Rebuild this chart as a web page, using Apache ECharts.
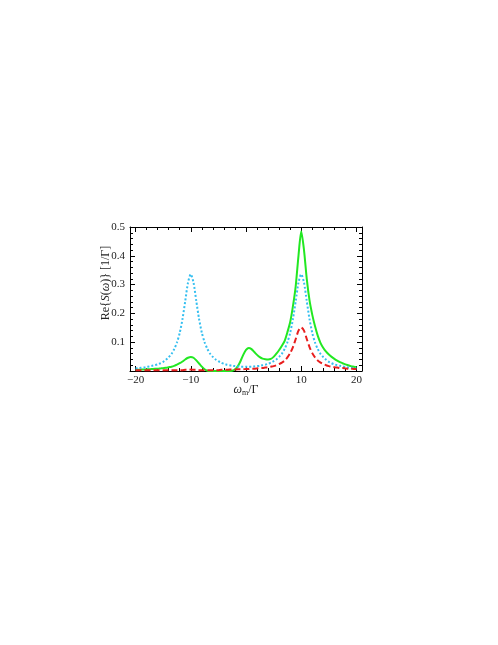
<!DOCTYPE html>
<html>
<head>
<meta charset="utf-8">
<script src="https://cdn.jsdelivr.net/npm/echarts@6/dist/echarts.min.js"></script>
<style>
html,body{margin:0;padding:0;background:#fff;}
#chart{width:498px;height:645px;}
</style>
</head>
<body>
<div id="chart"></div>
<script>
// x positions (omega_m / Gamma)
var xs = [
  -20,-19.5,-19,-18.5,-18,-17.5,-17,-16.5,-16,-15.5,
  -15,-14.5,-14,-13.5,-13,-12.5,-12,-11.5,-11,-10.5,
  -10,-9.5,-9,-8.5,-8,-7.5,-7,-6.5,-6,-5.5,
  -5,-4.5,-4,-3.5,-3,-2.5,-2,-1.5,-1,-0.5,
  0,0.5,1,1.5,2,2.5,3,3.5,4,4.5,
  5,5.5,6,6.5,7,7.5,8,8.5,9,9.5,
  10,10.5,11,11.5,12,12.5,13,13.5,14,14.5,
  15,15.5,16,16.5,17,17.5,18,18.5,19,19.5,
  20
];
// green solid curve
var greenVals = [
  0.004,0.004,0.005,0.005,0.006,0.006,0.007,0.008,0.008,0.009,
  0.010,0.011,0.013,0.015,0.018,0.022,0.027,0.033,0.040,0.046,
  0.049,0.046,0.037,0.026,0.015,0.006,0.001,0,0,0,
  0,0,0,0,0,0.001,0.005,0.016,0.034,0.056,
  0.073,0.080,0.076,0.066,0.056,0.048,0.043,0.041,0.040,0.042,
  0.049,0.060,0.073,0.088,0.105,0.135,0.170,0.225,0.295,0.400,
  0.485,0.420,0.320,0.245,0.195,0.155,0.122,0.097,0.080,0.067,
  0.057,0.049,0.042,0.036,0.031,0.027,0.023,0.020,0.017,0.015,
  0.013
];
// cyan dotted curve
var cyanVals = [
  0.009,0.010,0.011,0.012,0.014,0.016,0.018,0.020,0.023,0.027,
  0.032,0.039,0.048,0.059,0.076,0.099,0.132,0.180,0.243,0.307,
  0.336,0.307,0.243,0.181,0.133,0.100,0.077,0.060,0.049,0.040,
  0.034,0.029,0.025,0.022,0.020,0.018,0.017,0.016,0.015,0.015,
  0.015,0.015,0.015,0.016,0.017,0.018,0.020,0.022,0.025,0.029,
  0.034,0.040,0.049,0.060,0.077,0.100,0.133,0.181,0.243,0.307,
  0.336,0.307,0.243,0.180,0.132,0.099,0.076,0.059,0.048,0.039,
  0.032,0.027,0.023,0.020,0.018,0.016,0.014,0.012,0.011,0.010,
  0.009
];
// red dashed curve
var redVals = [
  0.003,0.003,0.003,0.003,0.003,0.003,0.003,0.003,0.003,0.003,
  0.003,0.003,0.003,0.003,0.003,0.003,0.003,0.003,0.004,0.004,
  0.005,0.004,0.004,0.003,0.003,0.003,0.003,0.003,0.003,0.003,
  0.003,0.004,0.004,0.004,0.005,0.005,0.005,0.006,0.006,0.006,
  0.007,0.007,0.008,0.008,0.009,0.010,0.010,0.012,0.013,0.015,
  0.017,0.020,0.024,0.029,0.036,0.047,0.062,0.083,0.111,0.140,
  0.151,0.140,0.111,0.083,0.062,0.047,0.036,0.029,0.024,0.020,
  0.017,0.015,0.013,0.012,0.010,0.010,0.009,0.008,0.008,0.007,
  0.007
];
// ticks
var xMajorTicks = [-20,-10,0,10,20];
var xMinorTicks = [-20,-18,-16,-14,-12,-10,-8,-6,-4,-2,0,2,4,6,8,10,12,14,16,18,20];
var yMajorTicks = [0,0.1,0.2,0.3,0.4,0.5];
var yTickLabels = [0.1,0.2,0.3,0.4,0.5];
var yMinorTicks = [0.02,0.04,0.06,0.08,0.12,0.14,0.16,0.18,0.22,0.24,0.26,0.28,0.32,0.34,0.36,0.38,0.42,0.44,0.46,0.48];

var FONT = 'Liberation Serif';
var TXT = '#222';
function pairs(v){ return xs.map(function(x,i){ return [x, v[i]]; }); }

function xAx(pos, ticks, len, showLine, labels){
  return {
    type:'value', min:-21, max:21, position:pos, gridIndex:0,
    axisLine:{show:showLine, onZero:false, lineStyle:{color:'#000', width:1}},
    axisTick:{show:true, inside:true, length:len, customValues:ticks, lineStyle:{color:'#000', width:1}},
    axisLabel: labels ? {show:true, customValues:xMajorTicks, margin:4, color:TXT, fontFamily:FONT, fontSize:11,
      formatter:function(v){ return v<0 ? '\u2212'+Math.abs(v) : String(v); }} : {show:false},
    splitLine:{show:false}
  };
}
function yAx(pos, ticks, len, showLine, labels){
  return {
    type:'value', min:0, max:0.5, position:pos, gridIndex:0,
    axisLine:{show:showLine, onZero:false, lineStyle:{color:'#000', width:1}},
    axisTick:{show:true, inside:true, length:len, customValues:ticks, lineStyle:{color:'#000', width:1}},
    axisLabel: labels ? {show:true, customValues:yTickLabels, margin:5, color:TXT, fontFamily:FONT, fontSize:11,
      formatter:function(v){ return v.toFixed(1); }} : {show:false},
    splitLine:{show:false}
  };
}

var chart = echarts.init(document.getElementById('chart'), null, {renderer:'canvas'});
chart.setOption({
  animation:false,
  backgroundColor:'#fff',
  grid:{left:130, top:227, width:232, height:144, show:false},
  xAxis:[
    xAx('bottom', xMajorTicks, 5, true, true),
    xAx('bottom', xMinorTicks, 3, false, false),
    xAx('top', xMajorTicks, 5, true, false),
    xAx('top', xMinorTicks, 3, false, false)
  ],
  yAxis:[
    yAx('left', yMajorTicks, 5, true, true),
    yAx('left', yMinorTicks, 3, false, false),
    yAx('right', yMajorTicks, 5, true, false),
    yAx('right', yMinorTicks, 3, false, false)
  ],
  series:[
    {type:'line', name:'green', xAxisIndex:0, yAxisIndex:0, data:pairs(greenVals), showSymbol:false, smooth:0.25, clip:true,
      lineStyle:{color:'#22e822', width:2, type:'solid'}},
    {type:'line', name:'cyan', xAxisIndex:0, yAxisIndex:0, data:pairs(cyanVals), showSymbol:false, smooth:0.25, clip:true,
      lineStyle:{color:'#35bff0', width:2, type:[2,2]}},
    {type:'line', name:'red', xAxisIndex:0, yAxisIndex:0, data:pairs(redVals), showSymbol:false, smooth:0.25, clip:true,
      lineStyle:{color:'#e81e1e', width:2, type:[6,3]}}
  ],
  graphic:[
    {type:'text', x:246, y:390, style:{
      text:'{i|ω}{s|m}/Γ', fill:TXT, font:'12px "Liberation Serif"', align:'center', verticalAlign:'middle',
      rich:{i:{fontFamily:FONT, fontSize:12, fontStyle:'italic'}, s:{fontFamily:FONT, fontSize:8, padding:[5,0,0,0]}}
    }},
    {type:'text', x:106, y:283, rotation:Math.PI/2, style:{
      text:'Re{{i|S}({i|ω})} [1/Γ]', fill:TXT, font:'12px "Liberation Serif"', align:'center', verticalAlign:'middle',
      rich:{i:{fontFamily:FONT, fontSize:12, fontStyle:'italic'}}
    }}
  ]
});
</script>
</body>
</html>
